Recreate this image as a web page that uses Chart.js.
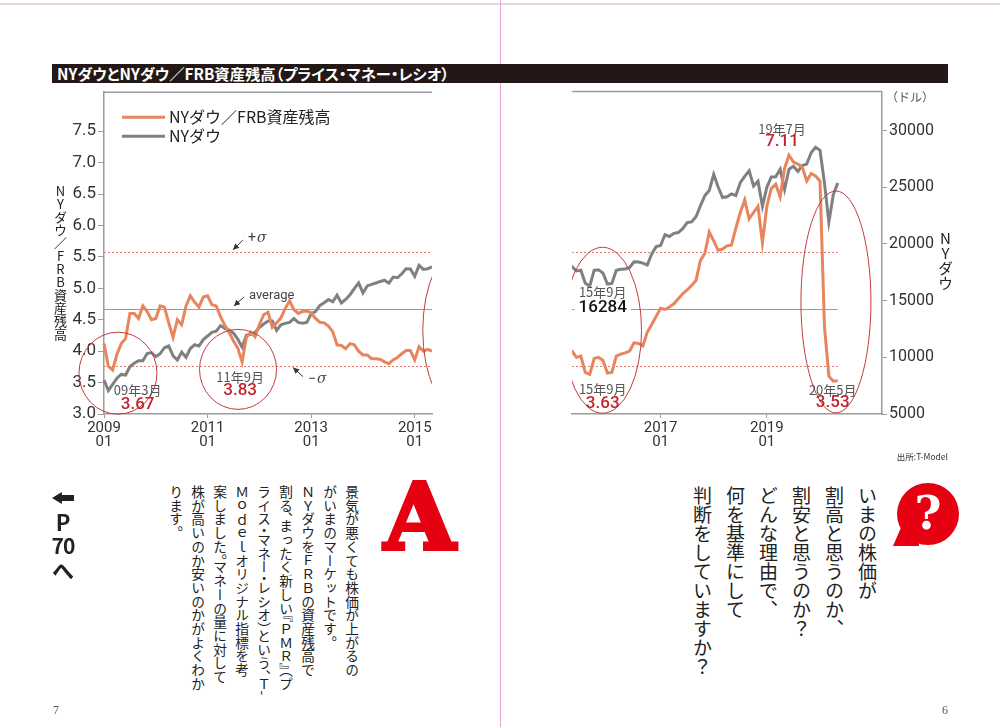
<!DOCTYPE html>
<html lang="ja">
<head>
<meta charset="utf-8">
<script src="https://cdn.jsdelivr.net/npm/chart.js@4/dist/chart.umd.min.js"></script>
<style>
  html,body{margin:0;padding:0;background:#fff;}
  body{width:1000px;height:727px;position:relative;overflow:hidden;font-family:"Noto Sans CJK JP",sans-serif;color:#222;}
  .abs{position:absolute;}
  .vert{writing-mode:vertical-rl;white-space:nowrap;}
  .h{font-feature-settings:"vhal";}
</style>
</head>
<body>
<div class="abs" style="left:0;top:3px;width:1000px;height:2px;background:#ecd6d2;"></div>
<div class="abs" style="left:500px;top:0;width:1px;height:727px;background:#e6a3d9;"></div>
<div class="abs" style="left:52px;top:64px;width:896px;height:19px;background:#231815;"></div>
<div class="abs" style="left:57px;top:64px;height:19px;line-height:19px;color:#fff;font-weight:700;font-size:15.3px;font-feature-settings:'palt';white-space:nowrap;">NYダウとNYダウ／FRB資産残高（プライス・マネー・レシオ）</div>

<div class="abs" style="left:0;top:80px;width:450px;height:380px;"><canvas id="cL" width="450" height="380"></canvas></div>
<div class="abs" style="left:540px;top:80px;width:420px;height:380px;"><canvas id="cR" width="420" height="380"></canvas></div>

<div class="abs vert" style="left:53px;top:185px;font-size:13px;line-height:15px;text-orientation:upright;color:#222;">NYダウ／FRB資産残高</div>
<div class="abs vert" style="left:937px;top:231px;font-size:15px;line-height:16px;text-orientation:upright;color:#222;">NYダウ</div>
<div class="abs" style="left:886px;top:88px;font-size:12px;color:#555;white-space:nowrap;">（ドル）</div>
<div class="abs" style="left:880px;top:450px;width:68px;text-align:right;font-size:8.5px;color:#333;white-space:nowrap;">出所:T-Model</div>

<div class="abs vert" style="left:165px;top:485px;width:198px;height:225px;font-size:13.7px;line-height:22px;color:#222;">景気が悪くても株価が上がるの<br>がいまのマーケットです<span class="h">。</span><br>ＮＹダウをＦＲＢの資産残高で<br>割る<span class="h">、</span>まったく新しい<span class="h">『</span>ＰＭＲ<span class="h">』（</span>プ<br>ライス<span class="h">・</span>マネー<span class="h">・</span>レシオ<span class="h">）</span>という<span class="h">、</span>Ｔ-<br>Ｍｏｄｅｌオリジナル指標を考<br>案しました<span class="h">。</span>マネーの量に対して<br>株が高いのか安いのかがよくわか<br>ります<span class="h">。</span></div>

<div class="abs vert" style="left:686px;top:486px;width:198px;height:230px;font-size:19px;line-height:33px;color:#222;">いまの株価が<br>割高と思うのか、<br>割安と思うのか？<br>どんな理由で、<br>何を基準にして<br>判断をしていますか？</div>

<div class="abs" style="left:384px;top:462px;font-family:'DejaVu Serif',serif;font-weight:700;font-size:92px;line-height:110px;color:#e50012;-webkit-text-stroke:4px #e50012;">A</div>

<div class="abs" style="left:897px;top:483px;width:62px;height:62px;border-radius:50%;background:#e50012;"></div>
<div class="abs" style="left:893px;top:528px;width:26px;height:18px;background:#e50012;clip-path:polygon(30% 0,100% 40%,100% 100%,0 100%);"></div>
<div class="abs" style="left:897px;top:480px;width:62px;text-align:center;font-family:'DejaVu Serif',serif;font-weight:700;font-size:46px;line-height:66px;color:#fff;">?</div>

<div class="abs" style="left:52px;top:492px;width:22px;height:12px;background:#222;clip-path:polygon(0 50%,45% 0,45% 25%,100% 25%,100% 75%,45% 75%,45% 100%);"></div>
<div class="abs" style="left:48px;top:509px;width:30px;text-align:center;font-weight:700;font-size:22px;line-height:24px;color:#222;">P</div>
<div class="abs" style="left:46px;top:533px;width:34px;text-align:center;font-weight:700;font-size:21px;line-height:24px;letter-spacing:-1px;color:#222;">70</div>
<div class="abs" style="left:48px;top:556px;width:30px;text-align:center;font-weight:700;font-size:22px;line-height:26px;color:#222;">へ</div>

<div class="abs" style="left:53px;top:703px;font-family:'Liberation Serif',serif;font-size:12px;color:#555;">7</div>
<div class="abs" style="left:942px;top:703px;font-family:'Liberation Serif',serif;font-size:12px;color:#555;">6</div>

<script>
// ---------- categories: monthly labels 2009-01 .. 2021-03 ----------
const months = [];
for (let y = 2009; y <= 2021; y++) {
  for (let m = 1; m <= 12; m++) {
    if (y === 2021 && m > 3) break;
    months.push(y + '-' + String(m).padStart(2, '0'));
  }
}
const xTickLabels = ['2009-01', '2011-01', '2013-01', '2015-01', '2017-01', '2019-01'];
const ratioTicksShown = [3.0, 3.5, 4.0, 4.5, 5.0, 5.5, 6.0, 6.5, 7.0, 7.5];
const dowTicksShown = [5000, 10000, 15000, 20000, 25000, 30000];

// ---------- series: NYダウ／FRB資産残高 (2009-01 .. 2020-05) ----------
const pmrRatio = [
  4.12, 3.76, 3.70, 3.95, 4.12, 4.20, 4.60, 4.60, 4.52, 4.72, 4.63, 4.50,
  4.52, 4.72, 4.70, 4.45, 4.22, 4.50, 4.42, 4.72, 4.88, 4.78, 4.70, 4.86,
  4.88, 4.74, 4.72, 4.55, 4.41, 4.30, 4.16, 4.05, 3.83, 4.22, 4.30, 4.23,
  4.42, 4.58, 4.62, 4.38, 4.45, 4.53, 4.68, 4.80, 4.66, 4.60, 4.63, 4.64,
  4.61, 4.52, 4.46, 4.45, 4.40, 4.31, 4.10, 4.09, 4.04, 4.12, 4.10, 4.00,
  3.94, 3.94, 3.88, 3.88, 3.87, 3.83, 3.80, 3.86, 3.90, 3.96, 4.01, 4.01,
  3.86, 4.07, 4.00, 4.03, 4.00, 3.90, 3.92, 3.66, 3.63, 3.88, 3.90, 3.85,
  3.65, 3.66, 3.92, 3.95, 3.97, 4.00, 4.13, 4.12, 4.08, 4.30, 4.42, 4.55,
  4.68, 4.66, 4.70, 4.75, 4.83, 4.91, 4.97, 5.04, 5.12, 5.44, 5.55, 5.89,
  5.75, 5.60, 5.62, 5.67, 5.68, 5.95, 6.20, 6.40, 6.10, 6.20, 6.30, 5.72,
  6.30, 6.58, 6.65, 6.45, 6.90, 7.11, 7.00, 6.97, 6.92, 6.70, 6.82, 6.78,
  6.70, 4.40, 3.60, 3.52, 3.53
];

// ---------- series: NYダウ (ドル) (2009-01 .. 2020-05) ----------
const dowClose = [
  8001, 7063, 7609, 8168, 8500, 8447, 9172, 9496, 9712, 9713, 10344, 10428,
  10067, 10325, 10857, 11009, 10137, 9774, 10466, 10015, 10788, 11118, 11006, 11578,
  11892, 12226, 12320, 12811, 12570, 12414, 12143, 11614, 10913, 11955, 12046, 12218,
  12633, 12952, 13212, 13214, 12393, 12880, 13009, 13091, 13437, 13096, 13026, 13104,
  13861, 14054, 14579, 14840, 15116, 14910, 15500, 14810, 15130, 15546, 16086, 16577,
  15699, 16322, 16458, 16581, 16717, 16827, 16563, 17098, 17043, 17391, 17828, 17823,
  17165, 18133, 17776, 17841, 18011, 17620, 17690, 16528, 16284, 17664, 17720, 17425,
  16466, 16517, 17685, 17774, 17787, 17930, 18432, 18401, 18308, 18142, 19124, 19763,
  19864, 20812, 20663, 20941, 21009, 21350, 21891, 21948, 22405, 23377, 24272, 24719,
  26149, 25029, 24103, 24163, 24416, 24271, 25415, 25965, 26458, 25116, 25538, 23327,
  24999, 25916, 25929, 26593, 24815, 26600, 26864, 26403, 26917, 27046, 28051, 28538,
  28256, 25409, 21917, 24346, 25383
];

// ---------- reference levels (+σ, average, −σ) ----------
const refLevels = [5.58, 4.67, 3.77];
const refNames = ['+σ', 'average', '−σ'];

// ---------- annotation texts ----------
const noteDates = ['09年3月', '11年9月', '19年7月', '15年9月', '15年9月', '20年5月'];
const noteNumbers = ['3.67', '3.83', '7.11', '16284', '3.63', '3.53'];
const noteMonths = ['2009-03', '2011-09', '2019-06', '2015-09', '2015-09', '2020-05'];
const noteValues = [3.67, 3.83, 7.11, 16284, 3.63, 3.53];

// ---------- axis ranges ----------
const ratioRange = [3, 8.12];
const dowRange = [5000, 33444];

// styles / placement (pixels)
const ORANGE = '#e8845e', GREY = '#808080', AXIS = '#9c9c9c', REDTXT = '#c4232b', REF = '#e27c74', RING = '#c63a3a';
const refDash = [[2, 2], [], [2, 2]];
const noteStyle = [
  {axis: 'y',  dx: 25, dy1: 18, dy2: 33, color: REDTXT, bg: false},
  {axis: 'y',  dx: -2, dy1: 15, dy2: 29, color: REDTXT, bg: false},
  {axis: 'y',  dx: -7, dy1: -26, dy2: -13, color: REDTXT, bg: false},
  {axis: 'y2', dx: 13, dy1: 6, dy2: 22, color: '#111', bg: true},
  {axis: 'y',  dx: 13, dy1: 15, dy2: 29, color: REDTXT, bg: false},
  {axis: 'y',  dx: -5, dy1: 9, dy2: 22, color: REDTXT, bg: false}
];
// rings: centre given as (month index, ratio value), radii in px
const rings = [
  {i: 3.24, v: 3.65, rx: 39, ry: 41},
  {i: 31.05, v: 3.71, rx: 38.5, ry: 40},
  {i: 82.9, v: 4.33, rx: 39, ry: 83},
  {i: 135.6, v: 4.78, rx: 35, ry: 111}
];
// arrows pointing at the reference lines
const arrows = [
  {ref: 0, i: 29.9, tipDy: -2, tail: [10, -10], tx: 15, ty: -11},
  {ref: 1, i: 30.1, tipDy: -3, tail: [10, -9], tx: 15, ty: -10},
  {ref: 2, i: 43.8, tipDy: 2, tail: [10, 9], tx: 15, ty: 12}
];

const pmrPlugin = {
  id: 'pmr',
  beforeDatasetsDraw(chart, args, o) {
    const {ctx, chartArea: ca, scales} = chart;
    const xEnd = o.refEnd ? Math.min(ca.right, scales.x.getPixelForValue(months.indexOf(o.refEnd))) : ca.right;
    ctx.save();
    refLevels.forEach((v, k) => {
      const py = Math.round(scales.y.getPixelForValue(v)) + 0.5;
      ctx.beginPath();
      ctx.setLineDash(refDash[k]);
      ctx.strokeStyle = REF;
      ctx.lineWidth = 1;
      ctx.moveTo(ca.left, py);
      ctx.lineTo(xEnd, py);
      ctx.stroke();
    });
    ctx.restore();
  },
  afterDatasetsDraw(chart, args, o) {
    const {ctx, chartArea: ca, scales} = chart;
    const x = scales.x, y = scales.y;
    ctx.save();
    // top frame line
    ctx.strokeStyle = AXIS; ctx.lineWidth = 1.5;
    ctx.beginPath(); ctx.moveTo(ca.left, ca.top); ctx.lineTo(ca.right, ca.top); ctx.stroke();

    // rings, cut at the gutter side
    ctx.save();
    ctx.beginPath();
    if (o.side === 'left') ctx.rect(0, 0, ca.right, chart.height);
    else ctx.rect(ca.left, 0, chart.width - ca.left, chart.height);
    ctx.clip();
    ctx.strokeStyle = RING; ctx.lineWidth = 1;
    rings.forEach(r => {
      const cx = x.getPixelForValue(r.i), cy = y.getPixelForValue(r.v);
      ctx.beginPath(); ctx.ellipse(cx, cy, r.rx, r.ry, 0, 0, Math.PI * 2); ctx.stroke();
    });
    ctx.restore();

    // arrows + labels for reference lines
    if (o.side === 'left') {
      arrows.forEach(a => {
        const tx0 = x.getPixelForValue(a.i), ty0 = y.getPixelForValue(refLevels[a.ref]) + a.tipDy;
        const sx = tx0 + a.tail[0], sy = ty0 + a.tail[1];
        ctx.strokeStyle = '#333'; ctx.fillStyle = '#333'; ctx.lineWidth = 1;
        ctx.beginPath(); ctx.moveTo(sx, sy); ctx.lineTo(tx0, ty0); ctx.stroke();
        const ang = Math.atan2(ty0 - sy, tx0 - sx);
        ctx.beginPath();
        ctx.moveTo(tx0, ty0);
        ctx.lineTo(tx0 - 6 * Math.cos(ang) + 3 * Math.sin(ang), ty0 - 6 * Math.sin(ang) - 3 * Math.cos(ang));
        ctx.lineTo(tx0 - 6 * Math.cos(ang) - 3 * Math.sin(ang), ty0 - 6 * Math.sin(ang) + 3 * Math.cos(ang));
        ctx.closePath(); ctx.fill();
        const name = refNames[a.ref];
        ctx.textBaseline = 'middle'; ctx.textAlign = 'left'; ctx.fillStyle = '#444';
        const lx = tx0 + a.tx, ly = ty0 + a.ty;
        if (name.endsWith('σ')) {
          ctx.font = '14px Roboto';
          const pre = name.slice(0, -1);
          ctx.fillText(pre, lx, ly);
          const w = ctx.measureText(pre).width;
          ctx.font = 'italic 14px "DejaVu Serif"';
          ctx.fillText('σ', lx + w + 1, ly);
        } else {
          ctx.font = '13px Roboto';
          ctx.fillText(name, lx, ly);
        }
      });
    }

    // point notes
    noteDates.forEach((d, k) => {
      const idx = months.indexOf(noteMonths[k]);
      if (idx < x.min - 0.01 || idx > x.max + 0.01) return;
      const st = noteStyle[k];
      const px = x.getPixelForValue(idx), py = scales[st.axis].getPixelForValue(noteValues[k]);
      const cx = px + st.dx;
      ctx.textAlign = 'center'; ctx.textBaseline = 'middle';
      ctx.font = '500 17px Roboto';
      if (st.bg) {
        const w = ctx.measureText(noteNumbers[k]).width + 8;
        ctx.fillStyle = '#fff';
        ctx.fillRect(cx - w / 2, py + st.dy2 - 8, w, 16);
      }
      ctx.font = '13px "Noto Sans CJK JP"';
      ctx.fillStyle = '#555';
      ctx.fillText(d, cx, py + st.dy1);
      ctx.font = '500 17px Roboto';
      ctx.fillStyle = st.color;
      ctx.fillText(noteNumbers[k], cx, py + st.dy2);
    });

    // legend (drawn inside the left panel)
    if (o.side === 'left') {
      chart.data.datasets.forEach((ds, k) => {
        const ly = ca.top + 25 + k * 19;
        ctx.strokeStyle = ds.borderColor; ctx.lineWidth = 3;
        ctx.beginPath(); ctx.moveTo(ca.left + 18, ly); ctx.lineTo(ca.left + 61, ly); ctx.stroke();
        ctx.fillStyle = '#222'; ctx.font = '16px "Noto Sans CJK JP"';
        ctx.textAlign = 'left'; ctx.textBaseline = 'middle';
        ctx.fillText(ds.label, ca.left + 65, ly);
      });
    }
    ctx.restore();
  }
};

function makeDatasets(clip) {
  return [
    {label: 'NYダウ／FRB資産残高', data: pmrRatio, yAxisID: 'y', borderColor: ORANGE, borderWidth: 3,
     pointRadius: 0, tension: 0, clip: clip, borderJoinStyle: 'miter'},
    {label: 'NYダウ', data: dowClose, yAxisID: 'y2', borderColor: GREY, borderWidth: 3,
     pointRadius: 0, tension: 0, clip: clip, borderJoinStyle: 'miter'}
  ];
}

function xScale(min, max) {
  return {
    type: 'category', min: min, max: max, offset: false,
    border: {color: AXIS, width: 1.5},
    grid: {display: true, drawOnChartArea: false, drawTicks: true, tickLength: 4, color: AXIS},
    ticks: {
      autoSkip: false, maxRotation: 0, padding: 3, color: '#333',
      font: {family: 'Roboto', size: 15, lineHeight: 0.95},
      callback(val) {
        const lab = this.getLabelForValue(val);
        if (xTickLabels.indexOf(lab) < 0) return null;
        return [lab.slice(0, 4), lab.slice(5)];
      }
    },
    afterFit(s) { s.height = 46; }
  };
}

Chart.register(pmrPlugin);

new Chart(document.getElementById('cL'), {
  type: 'line',
  data: {labels: months, datasets: makeDatasets({left: 2, right: 0, top: 4, bottom: 4})},
  options: {
    responsive: false, animation: false, events: [],
    layout: {padding: {top: 11, right: 18, left: 0, bottom: 0}},
    plugins: {legend: {display: false}, tooltip: {enabled: false}, pmr: {side: 'left', refEnd: null}},
    scales: {
      x: xScale('2009-01', '2015-05'),
      y: {
        position: 'left', min: ratioRange[0], max: ratioRange[1],
        border: {color: AXIS, width: 1.5},
        grid: {display: true, drawOnChartArea: false, drawTicks: true, tickLength: 6, color: AXIS},
        afterBuildTicks(s) { s.ticks = ratioTicksShown.map(v => ({value: v})); },
        ticks: {autoSkip: false, padding: 2, color: '#333', font: {family: 'Roboto', size: 17},
                callback: v => Number(v).toFixed(1)},
        afterFit(s) { s.width = 104; }
      },
      y2: {display: false, position: 'right', min: dowRange[0], max: dowRange[1]}
    }
  }
});

new Chart(document.getElementById('cR'), {
  type: 'line',
  data: {labels: months, datasets: makeDatasets({left: 0, right: 4, top: 4, bottom: 4})},
  options: {
    responsive: false, animation: false, events: [],
    layout: {padding: {top: 11, right: 0, left: 32, bottom: 0}},
    plugins: {legend: {display: false}, tooltip: {enabled: false}, pmr: {side: 'right', refEnd: '2020-05'}},
    scales: {
      x: xScale('2015-05', '2021-03'),
      y: {display: false, position: 'left', min: ratioRange[0], max: ratioRange[1]},
      y2: {
        position: 'right', min: dowRange[0], max: dowRange[1],
        border: {color: AXIS, width: 1.5},
        grid: {display: true, drawOnChartArea: false, drawTicks: true, tickLength: 5, color: AXIS},
        afterBuildTicks(s) { s.ticks = dowTicksShown.map(v => ({value: v})); },
        ticks: {autoSkip: false, padding: 2, color: '#333', font: {family: 'Roboto', size: 16},
                callback: v => String(v)},
        afterFit(s) { s.width = 78; }
      }
    }
  }
});
</script>
</body>
</html>
